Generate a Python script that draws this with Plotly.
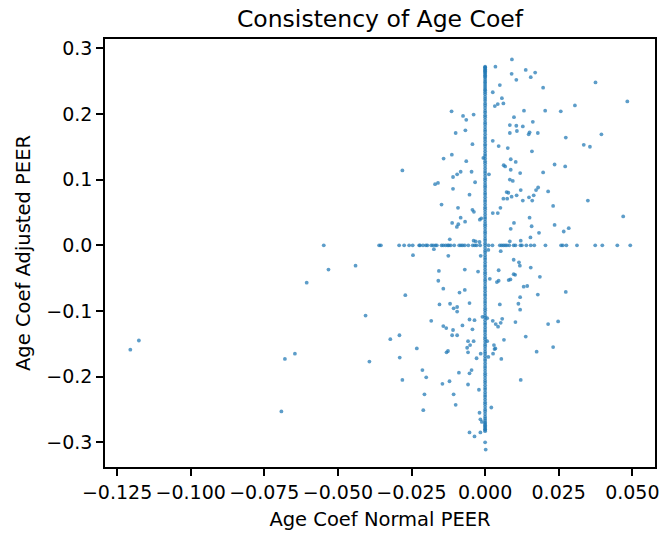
import plotly.graph_objects as go

# Coefficient pairs (normal PEER, adjusted PEER) away from the axes
scatter_x = [
    0.0091, 0.0035, 0.0138, 0.0170, 0.0090, 0.0155, 0.0106, 0.0375, 0.0197, 0.0050,
    0.0026, 0.0483, 0.0043, 0.0057, 0.0062, 0.0033, 0.0305, -0.0114, -0.0039, -0.0075,
    -0.0064, 0.0132, 0.0204, 0.0257, 0.0098, -0.0067, -0.0100, 0.0084, 0.0106, 0.0128,
    0.0162, 0.0108, 0.0084, 0.0151, 0.0148, 0.0179, 0.0274, 0.0395, 0.0026, -0.0043,
    0.0046, 0.0077, 0.0335, 0.0356, 0.0159, -0.0113, -0.0141, -0.0006, -0.0064, 0.0087,
    0.0104, 0.0063, 0.0068, 0.0236, 0.0272, -0.0281, -0.0046, -0.0083, -0.0095, -0.0109,
    0.0013, 0.0087, 0.0119, 0.0197, 0.0084, 0.0094, -0.0034, -0.0160, -0.0170, -0.0109,
    0.0180, 0.0173, 0.0121, 0.0214, 0.0073, 0.0079, 0.0107, 0.0165, 0.0149, 0.0090,
    0.0062, 0.0075, 0.0128, 0.0160, -0.0053, 0.0349, -0.0148, 0.0231, -0.0092, 0.0052,
    -0.0043, -0.0038, 0.0026, 0.0043, -0.0013, -0.0018, 0.0151, 0.0469, -0.0083, -0.0112,
    -0.0068, -0.0091, -0.0096, 0.0098, 0.0087, 0.0158, 0.0236, 0.0284, 0.0267, 0.0183,
    0.0154, -0.0120, -0.0039, -0.0032, 0.0084, 0.0121, -0.0019,
    0.0011, -0.0174, -0.0245, -0.0125, -0.0015, 0.0053, 0.0097, 0.0115, 0.0118, 0.0155,
    -0.0532, -0.0440, -0.0606, -0.0157, -0.0069, -0.0024, 0.0046, 0.0016, 0.0040, 0.0046,
    0.0080, 0.0086, 0.0097, 0.0102, 0.0186, -0.0159, -0.0142, 0.0131, 0.0143, -0.0087,
    -0.0069, -0.0271, 0.0179, 0.0274, 0.0119, -0.0155, -0.0119, -0.0107, -0.0095, -0.0095,
    -0.0053, 0.0050, 0.0113, 0.0119, -0.0406, -0.0009, 0.0007, -0.0183, -0.0053, -0.0036,
    0.0026, 0.0036, 0.0044, 0.0053, 0.0058, 0.0103, 0.0214, 0.0248, -0.0142, -0.0132,
    -0.0077, -0.0109, -0.0112, -0.0095, -0.0043, -0.0291, -0.0322, 0.0064, 0.0138, -0.0058,
    -0.0039, -0.0051, -0.0061, 0.0007, 0.0030, 0.0035, 0.0032, 0.0027, 0.0055, -0.0015,
    -0.0029, 0.0011, -0.0232, -0.0126, -0.0131, -0.0058, 0.0231, 0.0175, -0.1205, -0.1176,
    -0.0680, -0.0646, -0.0692, -0.0393, -0.0290, -0.0213, -0.0200, -0.0281, -0.0145, -0.0121,
    -0.0089, -0.0053, -0.0046, -0.0058, -0.0021, 0.0121, -0.0206, -0.0107, -0.0210, -0.0100,
    0.0021, -0.0019, -0.0016, -0.0011, -0.0053, -0.0036, -0.0016, 0.0000, 0.0002,
]
scatter_y = [
    0.283, 0.272, 0.267, 0.263, 0.261, 0.256, 0.252, 0.248, 0.240, 0.244,
    0.233, 0.219, 0.215, 0.224, 0.216, 0.212, 0.213, 0.204, 0.199, 0.197,
    0.191, 0.205, 0.205, 0.204, 0.195, 0.175, 0.171, 0.183, 0.182, 0.181,
    0.188, 0.174, 0.171, 0.172, 0.169, 0.171, 0.164, 0.169, 0.159, 0.154,
    0.151, 0.148, 0.153, 0.150, 0.143, 0.138, 0.132, 0.133, 0.128, 0.131,
    0.127, 0.122, 0.120, 0.123, 0.120, 0.114, 0.112, 0.112, 0.108, 0.104,
    0.108, 0.115, 0.110, 0.111, 0.100, 0.098, 0.096, 0.095, 0.093, 0.086,
    0.088, 0.084, 0.084, 0.082, 0.081, 0.080, 0.076, 0.076, 0.073, 0.074,
    0.071, 0.071, 0.068, 0.068, 0.077, 0.068, 0.062, 0.060, 0.057, 0.057,
    0.054, 0.051, 0.049, 0.049, 0.041, 0.039, 0.042, 0.044, 0.042, 0.034,
    0.036, 0.032, 0.028, 0.034, 0.025, 0.029, 0.031, 0.026, 0.021, 0.019,
    0.012, 0.009, 0.007, 0.006, 0.006, 0.007, 0.005,
    -0.007, -0.006, -0.015, -0.016, -0.016, -0.009, -0.022, -0.026, -0.031, -0.034,
    -0.037, -0.031, -0.057, -0.039, -0.037, -0.040, -0.038, -0.051, -0.056, -0.054,
    -0.053, -0.052, -0.044, -0.045, -0.048, -0.054, -0.066, -0.063, -0.062, -0.072,
    -0.068, -0.076, -0.075, -0.071, -0.079, -0.090, -0.089, -0.096, -0.094, -0.101,
    -0.088, -0.090, -0.089, -0.098, -0.107, -0.109, -0.111, -0.115, -0.113, -0.114,
    -0.115, -0.120, -0.124, -0.118, -0.112, -0.117, -0.120, -0.116, -0.123, -0.126,
    -0.122, -0.129, -0.137, -0.137, -0.128, -0.137, -0.143, -0.144, -0.139, -0.146,
    -0.146, -0.152, -0.156, -0.146, -0.152, -0.157, -0.158, -0.165, -0.173, -0.165,
    -0.172, -0.170, -0.157, -0.161, -0.163, -0.163, -0.155, -0.162, -0.159, -0.145,
    -0.173, -0.165, -0.253, -0.177, -0.171, -0.190, -0.201, -0.205, -0.211, -0.207,
    -0.194, -0.195, -0.190, -0.212, -0.220, -0.205, -0.227, -0.227, -0.251, -0.243,
    -0.247, -0.255, -0.265, -0.269, -0.285, -0.291, -0.285, -0.300, -0.311,
]

# Normal PEER coefficients whose adjusted coefficient is exactly zero
zero_adjusted_x = [
    -0.0548, -0.0360, -0.0354, -0.0292, -0.0275, -0.0258, -0.0246, -0.0224, -0.0221,
    -0.0211, -0.0201, -0.0196, -0.0183, -0.0177, -0.0169, -0.0164, -0.0148, -0.0142,
    -0.0134, -0.0127, -0.0123, -0.0117, -0.0105, -0.0088, -0.0082, -0.0076, -0.0069,
    -0.0057, -0.0042, -0.0035, -0.0029, -0.0017, 0.0012, 0.0025, 0.0050, 0.0056,
    0.0062, 0.0068, 0.0074, 0.0082, 0.0097, 0.0103, 0.0120, 0.0125, 0.0140, 0.0155,
    0.0167, 0.0205, 0.0258, 0.0264, 0.0276, 0.0312, 0.0374, 0.0398, 0.0449, 0.0493,
]

# Adjusted PEER coefficients whose normal coefficient is exactly zero
zero_normal_y = [
    0.272, 0.271, 0.270, 0.268, 0.266, 0.265, 0.263, 0.261, 0.259, 0.257, 0.255, 0.252,
    0.249, 0.247, 0.244, 0.241, 0.238, 0.236, 0.233, 0.230, 0.226, 0.223, 0.220, 0.216,
    0.213, 0.209, 0.205, 0.202, 0.198, 0.195, 0.191, 0.187, 0.184, 0.180, 0.176, 0.173,
    0.169, 0.165, 0.162, 0.158, 0.154, 0.151, 0.147, 0.143, 0.139, 0.136, 0.132, 0.128,
    0.125, 0.121, 0.117, 0.113, 0.110, 0.106, 0.102, 0.099, 0.095, 0.091, 0.088, 0.084,
    0.080, 0.077, 0.073, 0.069, 0.066, 0.062, 0.058, 0.055, 0.051, 0.047, 0.043, 0.040,
    0.036, 0.032, 0.029, 0.025, 0.021, 0.018, 0.014, 0.010, 0.007, 0.003, 0.000, -0.004,
    -0.008, -0.011, -0.015, -0.019, -0.022, -0.026, -0.030, -0.033, -0.037, -0.041,
    -0.044, -0.048, -0.052, -0.055, -0.059, -0.063, -0.066, -0.070, -0.074, -0.077,
    -0.081, -0.085, -0.088, -0.092, -0.096, -0.099, -0.103, -0.107, -0.110, -0.114,
    -0.118, -0.121, -0.125, -0.129, -0.132, -0.136, -0.140, -0.143, -0.147, -0.151,
    -0.154, -0.158, -0.162, -0.165, -0.169, -0.173, -0.176, -0.180, -0.184, -0.187,
    -0.191, -0.195, -0.198, -0.202, -0.206, -0.209, -0.213, -0.217, -0.220, -0.224,
    -0.228, -0.231, -0.235, -0.239, -0.242, -0.246, -0.250, -0.253, -0.257, -0.261,
    -0.264, -0.267, -0.270, -0.272, -0.274, -0.276, -0.278, -0.280, -0.281, -0.283,
]

x_ticks = [-0.125, -0.100, -0.075, -0.050, -0.025, 0.000, 0.025, 0.050]
y_ticks = [-0.3, -0.2, -0.1, 0.0, 0.1, 0.2, 0.3]


def fmt(v, digits):
    s = f"{abs(v):.{digits}f}"
    return ("\u2212" + s) if v < 0 else s


all_x = scatter_x + zero_adjusted_x + [0.0] * len(zero_normal_y)
all_y = scatter_y + [0.0] * len(zero_adjusted_x) + zero_normal_y

fig = go.Figure(
    go.Scatter(
        x=all_x,
        y=all_y,
        mode="markers",
        marker=dict(size=3.8, color="#1f77b4", opacity=0.72, line=dict(width=0)),
        hoverinfo="x+y",
    )
)

font_family = "DejaVu Sans"
axis_common = dict(
    showline=True,
    mirror=True,
    linecolor="black",
    linewidth=1.5,
    ticks="outside",
    ticklen=7,
    tickwidth=1.5,
    tickcolor="black",
    showgrid=False,
    zeroline=False,
    automargin=False,
    tickangle=0,
    tickfont=dict(family=font_family, size=19, color="black"),
)

fig.update_layout(
    width=661,
    height=534,
    margin=dict(l=105, r=6, t=39, b=67),
    paper_bgcolor="white",
    plot_bgcolor="white",
    showlegend=False,
    title=dict(
        text="Consistency of Age Coef",
        x=380 / 661,
        xanchor="center",
        y=1 - 19 / 534,
        yanchor="middle",
        font=dict(family=font_family, size=23.5, color="black"),
    ),
    xaxis=dict(
        range=[-0.1291, 0.0577],
        tickvals=x_ticks,
        ticktext=[fmt(v, 3) for v in x_ticks],
        title=dict(text="Age Coef Normal PEER", standoff=11,
                   font=dict(family=font_family, size=19.5, color="black")),
        **axis_common,
    ),
    yaxis=dict(
        range=[-0.3376, 0.3141],
        tickvals=y_ticks,
        ticktext=[fmt(v, 1) for v in y_ticks],
        title=dict(text="Age Coef Adjusted PEER", standoff=10,
                   font=dict(family=font_family, size=19.5, color="black")),
        **axis_common,
    ),
)

fig.write_html("out.html")
